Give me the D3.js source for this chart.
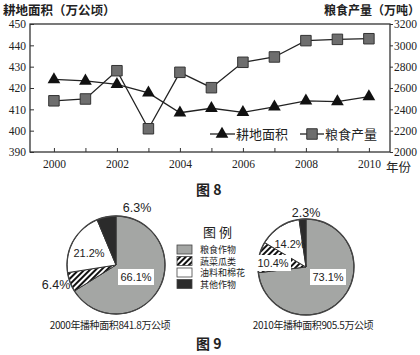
<!DOCTYPE html>
<html><head><meta charset="utf-8">
<script src="https://cdn.jsdelivr.net/npm/d3@7"></script>
<style>body{margin:0;background:#fff}svg{display:block}</style>
</head><body>
<svg id="c" width="420" height="355"></svg>
<script>
const years = [2000,2001,2002,2003,2004,2005,2006,2007,2008,2009,2010];
const landArea = [424,423.3,421.7,417.7,408.4,410.5,408.6,411.2,414,413.6,416];
const grainOutput = [2480,2497,2762,2218,2747,2603,2841,2891,3044,3056,3062];
const leftTicks = [390,400,410,420,430,440,450];
const rightTicks = [2000,2200,2400,2600,2800,3000,3200];
const xTicks = [2000,2002,2004,2006,2008,2010];
const pieCategories = ["粮食作物","蔬菜瓜类","油料和棉花","其他作物"];
const pie2000 = [66.1,6.4,21.2,6.3];
const pie2010 = [73.1,10.4,14.2,2.3];
const pieCaptions = ["2000年播种面积841.8万公顷","2010年播种面积905.5万公顷"];

const svg = d3.select("#c");
const defs = svg.append("defs");
const pat = defs.append("pattern").attr("id","hatch").attr("patternUnits","userSpaceOnUse")
  .attr("width",4).attr("height",4).attr("patternTransform","rotate(45)");
pat.append("rect").attr("width",4).attr("height",4).attr("fill","#fff");
pat.append("rect").attr("width",2).attr("height",4).attr("fill","#111");

const cjk = "'Noto Sans CJK SC', sans-serif";
const serif = "'Liberation Serif','DejaVu Serif',serif";
const sans = "'Liberation Sans',Arial,sans-serif";

// ---- line chart ----
const L=30,R=390,T=24,B=152;
const x = d3.scaleLinear().domain([1999.24,2010.67]).range([L,R]);
const yL = d3.scaleLinear().domain([390,450]).range([B,T]);
const yR = d3.scaleLinear().domain([2000,3200]).range([B,T]);

svg.append("rect").attr("x",L).attr("y",T).attr("width",R-L).attr("height",B-T)
  .attr("fill","none").attr("stroke","#333").attr("stroke-width",1.3);

const gx = svg.append("g").attr("transform",`translate(0,${B})`)
  .call(d3.axisBottom(x).tickValues(years).tickSize(-4).tickFormat(d=>xTicks.includes(d)?String(d):"").tickPadding(8));
const gl = svg.append("g").attr("transform",`translate(${L},0)`)
  .call(d3.axisLeft(yL).tickValues(leftTicks).tickSize(-4).tickPadding(4).tickFormat(d3.format("d")));
const gr = svg.append("g").attr("transform",`translate(${R},0)`)
  .call(d3.axisRight(yR).tickValues(rightTicks).tickSize(3).tickPadding(1).tickFormat(d3.format("d")));
[gx,gl,gr].forEach(g=>{
  g.select(".domain").remove();
  g.selectAll("line").attr("stroke","#333");
  g.selectAll("text").attr("font-family",serif).attr("font-size",11.5).attr("fill","#222");
});

const lineL = d3.line().x((d,i)=>x(years[i])).y(d=>yL(d));
const lineR = d3.line().x((d,i)=>x(years[i])).y(d=>yR(d));
svg.append("path").attr("d",lineL(landArea)).attr("fill","none").attr("stroke","#222").attr("stroke-width",1.3);
svg.append("path").attr("d",lineR(grainOutput)).attr("fill","none").attr("stroke","#222").attr("stroke-width",1.3);

const tri = d3.symbol().type(d3.symbolTriangle).size(70);
const sq = d3.symbol().type(d3.symbolSquare).size(110);
svg.selectAll(".tri").data(landArea).join("path")
  .attr("transform",(d,i)=>`translate(${x(years[i])},${yL(d)})`).attr("d",tri).attr("fill","#111");
svg.selectAll(".sq").data(grainOutput).join("path")
  .attr("transform",(d,i)=>`translate(${x(years[i])},${yR(d)})`).attr("d",sq)
  .attr("fill","#6e6e6e").attr("stroke","#333").attr("stroke-width",1);

// legend (line chart)
const lg = svg.append("g");
lg.append("line").attr("x1",210).attr("x2",235).attr("y1",134).attr("y2",134).attr("stroke","#222").attr("stroke-width",1.3);
lg.append("path").attr("transform","translate(222,134)").attr("d",tri).attr("fill","#111");
lg.append("text").attr("x",236).attr("y",139).text("耕地面积").attr("font-family",cjk).attr("font-size",13).attr("fill","#222");
lg.append("line").attr("x1",300).attr("x2",324).attr("y1",134).attr("y2",134).attr("stroke","#222").attr("stroke-width",1.3);
lg.append("path").attr("transform","translate(312,134)").attr("d",sq).attr("fill","#6e6e6e").attr("stroke","#333");
lg.append("text").attr("x",325).attr("y",139).text("粮食产量").attr("font-family",cjk).attr("font-size",13).attr("fill","#222");

svg.append("text").attr("x",3).attr("y",15).text("耕地面积（万公顷）").attr("font-family",cjk).attr("font-size",12.5).attr("font-weight","bold").attr("fill","#222");
svg.append("text").attr("x",420).attr("y",15).attr("text-anchor","end").text("粮食产量（万吨）").attr("font-family",cjk).attr("font-size",12).attr("font-weight","bold").attr("fill","#222");
svg.append("text").attr("x",386).attr("y",172).text("年份").attr("font-family",cjk).attr("font-size",12.5).attr("fill","#222");
svg.append("text").attr("x",196).attr("y",195).text("图 8").attr("font-family",cjk).attr("font-size",14).attr("font-weight","bold").attr("fill","#222");
svg.append("text").attr("x",196).attr("y",349).text("图 9").attr("font-family",cjk).attr("font-size",14).attr("font-weight","bold").attr("fill","#222");

// ---- pies ----
const fills = ["#a4a6a4","url(#hatch)","#ffffff","#2b2b2b"];
const pie = d3.pie().sort(null).value(d=>d);
const pieDefs = [
  {data:pie2000, cx:116, cy:265, r:49, caption:pieCaptions[0], capX:110,
   labels:[{dx:20,dy:12,box:true},{dx:-60,dy:20},{dx:-27,dy:-12},{dx:21,dy:-57}]},
  {data:pie2010, cx:306, cy:267, r:48, caption:pieCaptions[1], capX:313,
   labels:[{dx:22,dy:10,box:true},{dx:-33,dy:-4,box:true},{dx:-16,dy:-23},{dx:0,dy:-54}]}
];
pieDefs.forEach(p=>{
  const g = svg.append("g").attr("transform",`translate(${p.cx},${p.cy})`);
  const arc = d3.arc().innerRadius(0).outerRadius(p.r);
  g.selectAll("path").data(pie(p.data)).join("path").attr("d",arc)
    .attr("fill",(d,i)=>fills[i]).attr("stroke","#333").attr("stroke-width",1);
  g.append("circle").attr("r",p.r).attr("fill","none").attr("stroke","#444").attr("stroke-width",1.3);
  p.data.forEach((v,i)=>{
    const lb = p.labels[i];
    const txt = v.toFixed(1)+"%";
    if(lb.box){
      g.append("rect").attr("x",lb.dx-18).attr("y",lb.dy-8).attr("width",36).attr("height",16).attr("fill","#fff");
    }
    g.append("text").attr("x",lb.dx).attr("y",lb.dy).attr("dy","0.35em").attr("text-anchor","middle")
      .text(txt).attr("font-family",sans).attr("font-size",i===3||(p===pieDefs[0]&&i===1)?12.5:11).attr("fill","#222");
  });
  svg.append("text").attr("x",p.capX).attr("y",329).attr("text-anchor","middle").text(p.caption)
    .attr("font-family",cjk).attr("font-size",10).attr("fill","#222").attr("letter-spacing",-0.4);
});

// pie legend
svg.append("text").attr("x",203).attr("y",237).text("图 例").attr("font-family",cjk).attr("font-size",13).attr("fill","#222");
pieCategories.forEach((c,i)=>{
  const yy = 245+i*11.5;
  svg.append("rect").attr("x",177).attr("y",yy).attr("width",15).attr("height",9)
    .attr("fill",fills[i]).attr("stroke","#444").attr("stroke-width",0.8);
  svg.append("text").attr("x",200).attr("y",yy+8).text(c).attr("font-family",cjk).attr("font-size",9).attr("fill","#222");
});
</script>
</body></html>
